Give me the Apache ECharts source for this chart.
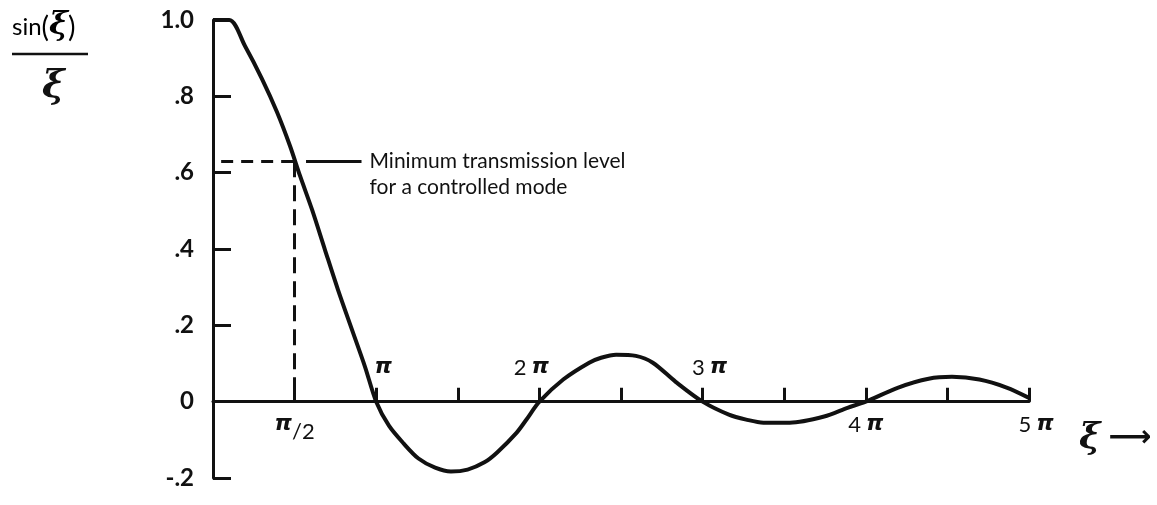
<!DOCTYPE html>
<html>
<head>
<meta charset="utf-8">
<script src="https://cdn.jsdelivr.net/npm/echarts@6/dist/echarts.min.js"></script>
<style>
  html, body { margin: 0; padding: 0; background: #fff; }
  #chart { width: 1157px; height: 505px; }
</style>
</head>
<body>
<div id="chart"></div>
<script>
// ξ measured in multiples of π, and the plotted amplitude sin(ξ)/ξ
const xi = [0, 0.10, 0.196, 0.300, 0.392, 0.472, 0.533, 0.607, 0.686, 0.766, 0.852, 0.931,
            1.0, 1.078, 1.169, 1.259, 1.361, 1.458, 1.560, 1.663, 1.741, 1.861, 1.922,
            2.0, 2.146, 2.305, 2.378, 2.470, 2.591, 2.695, 2.835,
            3.0, 3.161, 3.267, 3.373, 3.534, 3.745, 3.888,
            4.0, 4.199, 4.385, 4.528, 4.696, 4.863, 5.0];
const amplitude = [1.0, 1.0, 0.932, 0.846, 0.759, 0.670, 0.592, 0.503, 0.398, 0.293, 0.188, 0.092,
                   0, -0.063, -0.110, -0.149, -0.173, -0.183, -0.178, -0.159, -0.133, -0.081, -0.046,
                   0, 0.058, 0.102, 0.115, 0.123, 0.120, 0.102, 0.052,
                   0, -0.034, -0.047, -0.055, -0.055, -0.039, -0.016,
                   0, 0.037, 0.060, 0.065, 0.058, 0.037, 0.01];

// axis tick labels
const yTickValues = [-0.2, 0, 0.2, 0.4, 0.6, 0.8, 1.0];
const yTickLabels = ['-.2', '0', '.2', '.4', '.6', '.8', '1.0'];
const xTickValues = [0.5, 1, 2, 3, 4, 5];
const xTickLabels = ['π/2', 'π', '2π', '3π', '4π', '5π'];

// threshold annotation
const thresholdLevel = 0.63;
const thresholdXi = 0.5;
const noteLines = ['Minimum transmission level', 'for a controlled mode'];

const INK = '#111';
const FONT = 'Lato, "DejaVu Sans", sans-serif';
const GREEK = '"DejaVu Sans", sans-serif';
const XI_FONT = '"DejaVu Serif", serif';
const aboveAxis = new Set(['π', '2π', '3π']);

const yMin = yTickValues[0];
const yMax = yTickValues[yTickValues.length - 1];
const GRID = { left: 213, right: 128, top: 20, bottom: 27 };
const plotHeight = 505 - GRID.top - GRID.bottom;
// lift the ξ axis from the bottom edge of the plot up to the zero level
const zeroLift = plotHeight * (0 - yMin) / (yMax - yMin);

const labelRich = {
  n:    { fontFamily: FONT, fontSize: 22, color: INK, padding: [0, 5, 0, 0] },
  pi:   { fontFamily: GREEK, fontStyle: 'italic', fontWeight: 'bold', fontSize: 22, color: INK },
  sub:  { fontFamily: FONT, fontSize: 22, color: INK, lineHeight: 22, padding: [14, 0, 0, 0] },
  padR: { width: 16 },
  padL: { width: 14 }
};

function near(a, b) { return Math.abs(a - b) < 1e-6; }

function xLabel(v, above) {
  const i = xTickValues.findIndex(t => near(t, v));
  if (i < 0) return '';
  const s = xTickLabels[i];
  if (aboveAxis.has(s) !== above) return '';
  const m = s.match(/^(\d*)π(?:\/(\d+))?$/);
  let out = '';
  if (m[1]) out += '{n|' + m[1] + '}';
  out += '{pi|π}';
  if (m[2]) out += '{sub|/' + m[2] + '}';
  // nudge a few labels sideways off their ticks
  if (s === 'π' || s === '3π' || s === '5π') out = '{padL|}' + out;
  if (s === '2π') out = out + '{padR|}';
  return out;
}

function yLabel(v) {
  const i = yTickValues.findIndex(t => near(t, v));
  return i < 0 ? '' : yTickLabels[i];
}

const axisInk = { color: INK, width: 3 };
const dashedH = { color: INK, width: 3, type: [12, 8] };
const dashedV = { color: INK, width: 3, type: [16, 8] };

const chart = echarts.init(document.getElementById('chart'), null, { renderer: 'canvas' });

chart.setOption({
  backgroundColor: '#fff',
  animation: false,
  grid: Object.assign({ outerBoundsMode: 'none', containLabel: false }, GRID),
  xAxis: [
    {
      type: 'value', min: 0, max: 5, interval: 0.5, position: 'bottom', offset: -zeroLift,
      axisLine: { show: true, onZero: false, lineStyle: axisInk },
      axisTick: { show: true, inside: true, length: 14, lineStyle: axisInk },
      axisLabel: { margin: 12, formatter: v => xLabel(v, false), rich: labelRich },
      splitLine: { show: false },
      name: '{xi|ξ}{arr|⟶}',
      nameLocation: 'end',
      nameGap: 50,
      nameTextStyle: {
        padding: [74, 0, 0, 0],
        rich: {
          xi:  { fontFamily: XI_FONT, fontStyle: 'italic', fontWeight: 'bold', fontSize: 36, color: INK, padding: [0, 8, 0, 0] },
          arr: { fontFamily: GREEK, fontSize: 30, fontWeight: 'bold', color: INK }
        }
      }
    },
    {
      type: 'value', min: 0, max: 5, interval: 0.5, position: 'bottom', offset: -zeroLift,
      axisLine: { show: false, onZero: false },
      axisTick: { show: false },
      axisLabel: { inside: true, margin: 23, formatter: v => xLabel(v, true), rich: labelRich },
      splitLine: { show: false }
    }
  ],
  yAxis: {
    type: 'value', min: yMin, max: yMax, interval: 0.2,
    axisLine: { show: true, onZero: false, lineStyle: axisInk },
    axisTick: { show: true, inside: true, length: 18, lineStyle: axisInk },
    axisLabel: { margin: 19, formatter: yLabel, fontFamily: FONT, fontWeight: 'bold', fontSize: 24, color: INK },
    splitLine: { show: false }
  },
  graphic: [
    { type: 'text', left: 12, top: 10,
      style: {
        text: '{s|sin}{p|(}{g|ξ}{p|)}',
        rich: {
          s: { fontFamily: FONT, fontSize: 24, color: INK, verticalAlign: 'bottom', padding: [0, 0, 3, 0] },
          p: { fontFamily: FONT, fontSize: 28, color: INK, verticalAlign: 'bottom' },
          g: { fontFamily: XI_FONT, fontStyle: 'italic', fontWeight: 'bold', fontSize: 32, color: INK, verticalAlign: 'bottom' }
        }
      } },
    { type: 'line', shape: { x1: 12, y1: 54, x2: 88, y2: 54 },
      style: { stroke: INK, lineWidth: 2.5 } },
    { type: 'text', left: 42, top: 68,
      style: { text: 'ξ', fontFamily: XI_FONT, fontStyle: 'italic', fontWeight: 'bold', fontSize: 38, fill: INK } }
  ],
  series: [{
    type: 'line',
    data: xi.map((x, i) => [x, amplitude[i]]),
    smooth: 0.3,
    showSymbol: false,
    clip: false,
    lineStyle: { color: INK, width: 4 },
    markLine: {
      silent: true,
      symbol: ['none', 'none'],
      label: { show: false },
      data: [
        [{ coord: [0.05, thresholdLevel], lineStyle: dashedH },
         { coord: [thresholdXi, thresholdLevel] }],
        [{ coord: [thresholdXi, thresholdLevel], lineStyle: dashedV },
         { coord: [thresholdXi, 0] }],
        [{ coord: [0.57, thresholdLevel],
           lineStyle: { color: INK, width: 3, type: 'solid' },
           label: {
             show: true, position: 'end', distance: 8,
             formatter: '\n' + noteLines.join('\n'),
             fontFamily: FONT, fontSize: 21, lineHeight: 26, color: INK
           } },
         { coord: [0.91, thresholdLevel] }]
      ]
    }
  }]
});
</script>
</body>
</html>
